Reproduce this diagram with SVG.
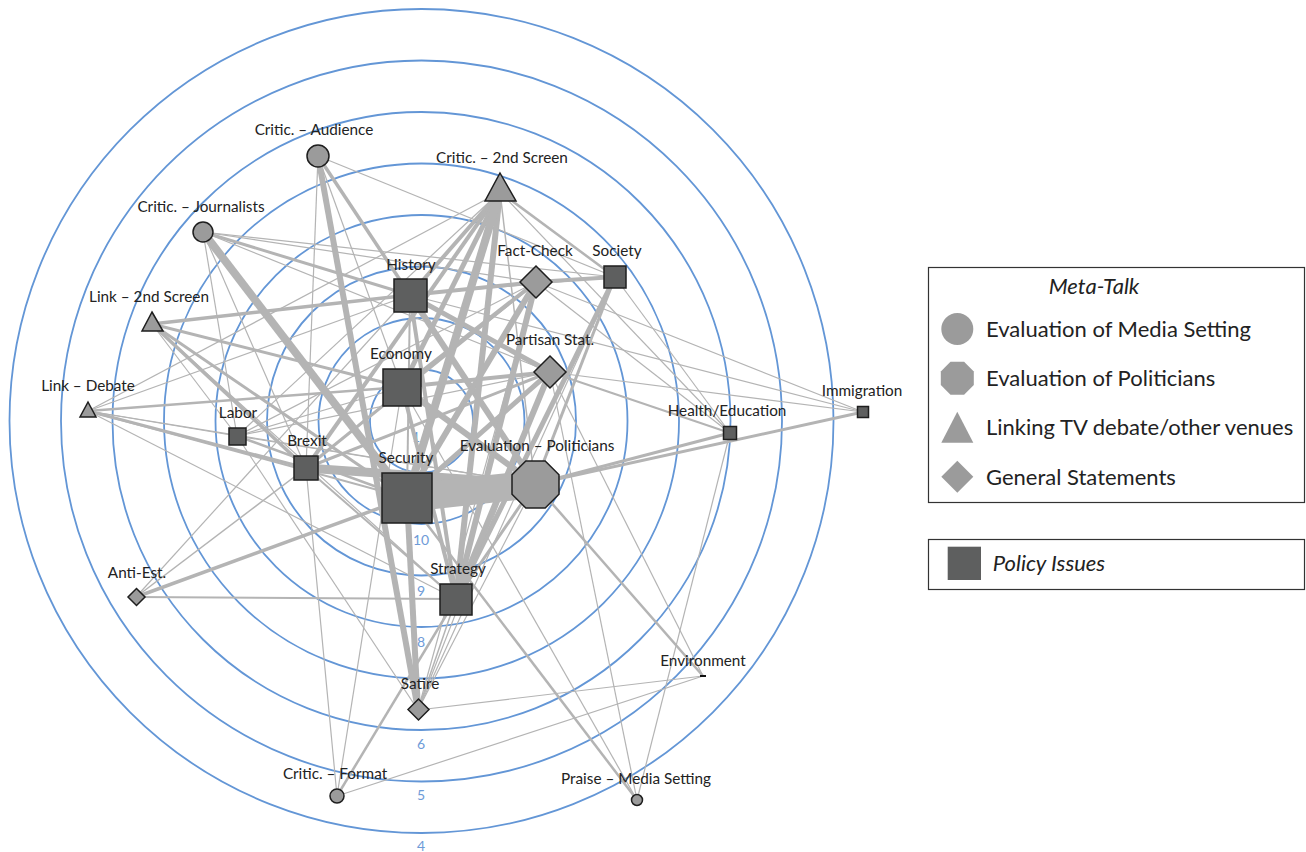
<svg xmlns="http://www.w3.org/2000/svg" width="1306" height="852" viewBox="0 0 1306 852">
<style>
.ring{fill:none;stroke:#6396d6;stroke-width:1.8}
.rl{font-family:Lato,"Liberation Sans",sans-serif;font-size:14px;fill:#6e9bd8;text-anchor:middle}
.edges line{stroke:#b4b4b4;stroke-linecap:butt}
.pol{fill:#5e5f5f;stroke:#1e1e1e;stroke-width:1.5}
.meta{fill:#9b9b9b;stroke:#1e1e1e;stroke-width:1.5}
.lbl{font-family:Lato,"Liberation Sans",sans-serif;font-size:15.3px;fill:#222;text-anchor:middle}
.lg{font-family:Lato,"Liberation Sans",sans-serif;font-size:22px;fill:#222}
.lgshape{fill:#9b9b9b}
</style>
<rect width="1306" height="852" fill="#fff"/>
<g id="rings">
<circle class="ring" cx="421.5" cy="421" r="412"/>
<circle class="ring" cx="421.5" cy="421" r="360.5"/>
<circle class="ring" cx="421.5" cy="421" r="309"/>
<circle class="ring" cx="421.5" cy="421" r="257.5"/>
<circle class="ring" cx="421.5" cy="421" r="206"/>
<circle class="ring" cx="421.5" cy="421" r="154.5"/>
<circle class="ring" cx="421.5" cy="421" r="103"/>
<circle class="ring" cx="421.5" cy="421" r="51.5"/>
<text class="rl" x="416" y="442">1</text>
<text class="rl" x="421" y="545">10</text>
<text class="rl" x="421" y="596">9</text>
<text class="rl" x="421" y="647">8</text>
<text class="rl" x="421" y="749">6</text>
<text class="rl" x="421" y="800">5</text>
<text class="rl" x="421" y="851">4</text>
</g>
<g id="connectors" class="edges">
<!-- thin -->
<line x1="318" y1="156" x2="615" y2="277" stroke-width="1.2"/>
<line x1="318" y1="156" x2="306" y2="468" stroke-width="1.2"/>
<line x1="203" y1="232" x2="536" y2="282" stroke-width="1.2"/>
<line x1="203" y1="232" x2="615" y2="277" stroke-width="1.2"/>
<line x1="203" y1="232" x2="550" y2="372" stroke-width="1.2"/>
<line x1="203" y1="232" x2="237" y2="436" stroke-width="1.2"/>
<line x1="203" y1="232" x2="306" y2="468" stroke-width="1.2"/>
<line x1="88" y1="411" x2="237" y2="436" stroke-width="1.2"/>
<line x1="88" y1="411" x2="410" y2="295" stroke-width="1.2"/>
<line x1="88" y1="411" x2="500" y2="192" stroke-width="1.2"/>
<line x1="88" y1="411" x2="456" y2="599" stroke-width="1.2"/>
<line x1="88" y1="411" x2="535" y2="484" stroke-width="1.2"/>
<line x1="136" y1="597" x2="306" y2="468" stroke-width="1.5"/>
<line x1="136" y1="597" x2="410" y2="295" stroke-width="1.2"/>
<line x1="152" y1="324" x2="237" y2="436" stroke-width="1.2"/>
<line x1="152" y1="324" x2="456" y2="599" stroke-width="1.2"/>
<line x1="237" y1="436" x2="535" y2="484" stroke-width="1.2"/>
<line x1="237" y1="436" x2="536" y2="282" stroke-width="1.2"/>
<line x1="237" y1="436" x2="500" y2="192" stroke-width="1.2"/>
<line x1="237" y1="436" x2="418" y2="710" stroke-width="1.2"/>
<line x1="237" y1="436" x2="402" y2="387" stroke-width="1.2"/>
<line x1="237" y1="436" x2="550" y2="372" stroke-width="1.2"/>
<line x1="536" y1="282" x2="863" y2="412" stroke-width="1.2"/>
<line x1="536" y1="282" x2="730" y2="433" stroke-width="1.2"/>
<line x1="550" y1="372" x2="863" y2="412" stroke-width="1.2"/>
<line x1="550" y1="372" x2="703" y2="676" stroke-width="1.2"/>
<line x1="550" y1="372" x2="637" y2="800" stroke-width="1.2"/>
<line x1="615" y1="277" x2="730" y2="433" stroke-width="1.2"/>
<line x1="500" y1="192" x2="730" y2="433" stroke-width="1.2"/>
<line x1="730" y1="433" x2="637" y2="800" stroke-width="1.2"/>
<line x1="402" y1="387" x2="637" y2="800" stroke-width="1.2"/>
<line x1="337" y1="796" x2="402" y2="387" stroke-width="1.2"/>
<line x1="337" y1="796" x2="306" y2="468" stroke-width="1.2"/>
<line x1="337" y1="796" x2="703" y2="676" stroke-width="1.2"/>
<line x1="418" y1="710" x2="703" y2="676" stroke-width="1.2"/>
<line x1="418" y1="710" x2="535" y2="484" stroke-width="1.2"/>
<line x1="418" y1="710" x2="550" y2="372" stroke-width="1.2"/>
<line x1="418" y1="710" x2="536" y2="282" stroke-width="1.2"/>
<line x1="418" y1="710" x2="615" y2="277" stroke-width="1.2"/>
<line x1="410" y1="295" x2="615" y2="277" stroke-width="1.2"/>
<line x1="410" y1="295" x2="863" y2="412" stroke-width="1.2"/>
<line x1="318" y1="156" x2="402" y2="387" stroke-width="1.2"/>
<line x1="500" y1="192" x2="535" y2="484" stroke-width="1.5"/>
<!-- medium -->
<line x1="318" y1="156" x2="410" y2="295" stroke-width="3.5"/>
<line x1="203" y1="232" x2="410" y2="295" stroke-width="3"/>
<line x1="152" y1="324" x2="410" y2="295" stroke-width="3.5"/>
<line x1="152" y1="324" x2="402" y2="387" stroke-width="3"/>
<line x1="152" y1="324" x2="306" y2="468" stroke-width="3.5"/>
<line x1="152" y1="324" x2="407" y2="498" stroke-width="3"/>
<line x1="88" y1="411" x2="402" y2="387" stroke-width="2.5"/>
<line x1="88" y1="411" x2="306" y2="468" stroke-width="3"/>
<line x1="88" y1="411" x2="407" y2="498" stroke-width="2"/>
<line x1="136" y1="597" x2="407" y2="498" stroke-width="3.5"/>
<line x1="136" y1="597" x2="456" y2="599" stroke-width="2"/>
<line x1="237" y1="436" x2="407" y2="498" stroke-width="2.5"/>
<line x1="536" y1="282" x2="306" y2="468" stroke-width="3"/>
<line x1="550" y1="372" x2="306" y2="468" stroke-width="3"/>
<line x1="615" y1="277" x2="535" y2="484" stroke-width="3"/>
<line x1="535" y1="484" x2="863" y2="412" stroke-width="3"/>
<line x1="535" y1="484" x2="730" y2="433" stroke-width="3"/>
<line x1="535" y1="484" x2="703" y2="676" stroke-width="2.5"/>
<line x1="550" y1="372" x2="730" y2="433" stroke-width="2"/>
<line x1="500" y1="192" x2="615" y2="277" stroke-width="2.5"/>
<line x1="407" y1="498" x2="637" y2="800" stroke-width="2.5"/>
<line x1="337" y1="796" x2="456" y2="599" stroke-width="2.5"/>
<line x1="418" y1="710" x2="456" y2="599" stroke-width="1.5"/>
<line x1="410" y1="295" x2="407" y2="498" stroke-width="2"/>
<line x1="306" y1="468" x2="456" y2="599" stroke-width="2"/>
<!-- thick -->
<line x1="535" y1="484" x2="456" y2="599" stroke-width="3"/>
<line x1="402" y1="387" x2="456" y2="599" stroke-width="4"/>
<line x1="410" y1="295" x2="456" y2="599" stroke-width="4"/>
<line x1="550" y1="372" x2="402" y2="387" stroke-width="4"/>
<line x1="550" y1="372" x2="410" y2="295" stroke-width="5"/>
<line x1="536" y1="282" x2="615" y2="277" stroke-width="4"/>
<line x1="536" y1="282" x2="410" y2="295" stroke-width="4"/>
<line x1="536" y1="282" x2="402" y2="387" stroke-width="4"/>
<line x1="500" y1="192" x2="306" y2="468" stroke-width="4"/>
<line x1="500" y1="192" x2="410" y2="295" stroke-width="4"/>
<line x1="500" y1="192" x2="402" y2="387" stroke-width="5"/>
<line x1="402" y1="387" x2="535" y2="484" stroke-width="6"/>
<line x1="410" y1="295" x2="535" y2="484" stroke-width="6"/>
<line x1="615" y1="277" x2="456" y2="599" stroke-width="5"/>
<line x1="550" y1="372" x2="456" y2="599" stroke-width="6"/>
<line x1="550" y1="372" x2="407" y2="498" stroke-width="5"/>
<line x1="536" y1="282" x2="456" y2="599" stroke-width="6"/>
<line x1="536" y1="282" x2="407" y2="498" stroke-width="6"/>
<line x1="500" y1="192" x2="456" y2="599" stroke-width="6"/>
<line x1="407" y1="498" x2="418" y2="710" stroke-width="6"/>
<line x1="318" y1="156" x2="418" y2="710" stroke-width="6"/>
<line x1="500" y1="192" x2="407" y2="498" stroke-width="8"/>
<line x1="203" y1="232" x2="407" y2="498" stroke-width="8"/>
<line x1="306" y1="468" x2="535" y2="484" stroke-width="9"/>
<line x1="407" y1="498" x2="535" y2="484" stroke-width="28"/>
</g>
<g id="n-audience"><circle class="meta" cx="318" cy="156" r="11"/><text class="lbl" x="314" y="135">Critic. – Audience</text></g>
<g id="n-2ndscreen"><polygon class="meta" points="500,173 516,201 485,201"/><text class="lbl" x="502" y="163">Critic. – 2nd Screen</text></g>
<g id="n-journalists"><circle class="meta" cx="203" cy="232" r="10"/><text class="lbl" x="201" y="212">Critic. – Journalists</text></g>
<g id="n-factcheck"><polygon class="meta" points="536,266 552,282 536,298 520,282"/><text class="lbl" x="535" y="256">Fact-Check</text></g>
<g id="n-society"><rect class="pol" x="604" y="266" width="22" height="22"/><text class="lbl" x="617" y="256">Society</text></g>
<g id="n-history"><rect class="pol" x="394" y="279" width="33" height="33"/><text class="lbl" x="411" y="270">History</text></g>
<g id="n-link2nd"><polygon class="meta" points="152,312 163,331 142,331"/><text class="lbl" x="149" y="302">Link – 2nd Screen</text></g>
<g id="n-economy"><rect class="pol" x="383" y="369" width="38" height="37"/><text class="lbl" x="401" y="359">Economy</text></g>
<g id="n-partisan"><polygon class="meta" points="550,356 566,372 550,388 534,372"/><text class="lbl" x="550" y="345">Partisan Stat.</text></g>
<g id="n-linkdebate"><polygon class="meta" points="88,402 96,417 80,417"/><text class="lbl" x="88" y="391">Link – Debate</text></g>
<g id="n-immigration"><rect class="pol" x="857.5" y="406.5" width="11" height="11"/><text class="lbl" x="862" y="396">Immigration</text></g>
<g id="n-health"><rect class="pol" x="723.5" y="426.5" width="13" height="13"/><text class="lbl" x="727" y="416">Health/Education</text></g>
<g id="n-labor"><rect class="pol" x="229" y="428" width="17" height="17"/><text class="lbl" x="238" y="418">Labor</text></g>
<g id="n-brexit"><rect class="pol" x="294" y="456" width="24" height="24"/><text class="lbl" x="307" y="446">Brexit</text></g>
<g id="n-security"><rect class="pol" x="382" y="473" width="50" height="50"/><text class="lbl" x="406" y="463">Security</text></g>
<g id="n-evalpol"><polygon class="meta" points="545.2,461 559,474.8 559,494.2 545.2,508 525.8,508 512,494.2 512,474.8 525.8,461"/><text class="lbl" x="537" y="451">Evaluation – Politicians</text></g>
<g id="n-strategy"><rect class="pol" x="440" y="584" width="32" height="31"/><text class="lbl" x="458" y="574">Strategy</text></g>
<g id="n-antiest"><polygon class="meta" points="136.5,588.5 145,597 136.5,605.5 128,597"/><text class="lbl" x="137" y="578">Anti-Est.</text></g>
<g id="n-environment"><rect x="700" y="675" width="6" height="2" fill="#111"/><text class="lbl" x="703" y="666">Environment</text></g>
<g id="n-satire"><polygon class="meta" points="418.5,699 429,709.5 418.5,720 408,709.5"/><text class="lbl" x="420" y="689">Satire</text></g>
<g id="n-format"><circle class="meta" cx="337" cy="796" r="7"/><text class="lbl" x="335" y="779">Critic. – Format</text></g>
<g id="n-praise"><circle class="meta" cx="637" cy="800" r="5.5"/><text class="lbl" x="636" y="784">Praise – Media Setting</text></g>
<g id="legend-meta">
<rect x="928.5" y="267.5" width="376" height="235" fill="#fff" stroke="#333" stroke-width="1.2"/>
<text class="lg" x="1094" y="294" text-anchor="middle" font-style="italic">Meta-Talk</text>
<circle class="lgshape" cx="957.3" cy="329" r="16"/>
<text class="lg" x="986" y="337">Evaluation of Media Setting</text>
<polygon class="lgshape" points="950.5,361.8 964.1,361.8 973.8,371.5 973.8,385.1 964.1,394.8 950.5,394.8 940.8,385.1 940.8,371.5"/>
<text class="lg" x="986" y="386">Evaluation of Politicians</text>
<polygon class="lgshape" points="957.3,411.7 973.3,442.7 941.3,442.7"/>
<text class="lg" x="986" y="435">Linking TV debate/other venues</text>
<polygon class="lgshape" points="957.3,460.7 973.3,476.7 957.3,492.7 941.3,476.7"/>
<text class="lg" x="986" y="485">General Statements</text>
</g>
<g id="legend-policy">
<rect x="928.5" y="539.5" width="376" height="50" fill="#fff" stroke="#333" stroke-width="1.2"/>
<rect x="947.7" y="546.7" width="33.3" height="33.3" fill="#5e5f5f"/>
<text class="lg" x="992.7" y="571" font-style="italic">Policy Issues</text>
</g>
</svg>
